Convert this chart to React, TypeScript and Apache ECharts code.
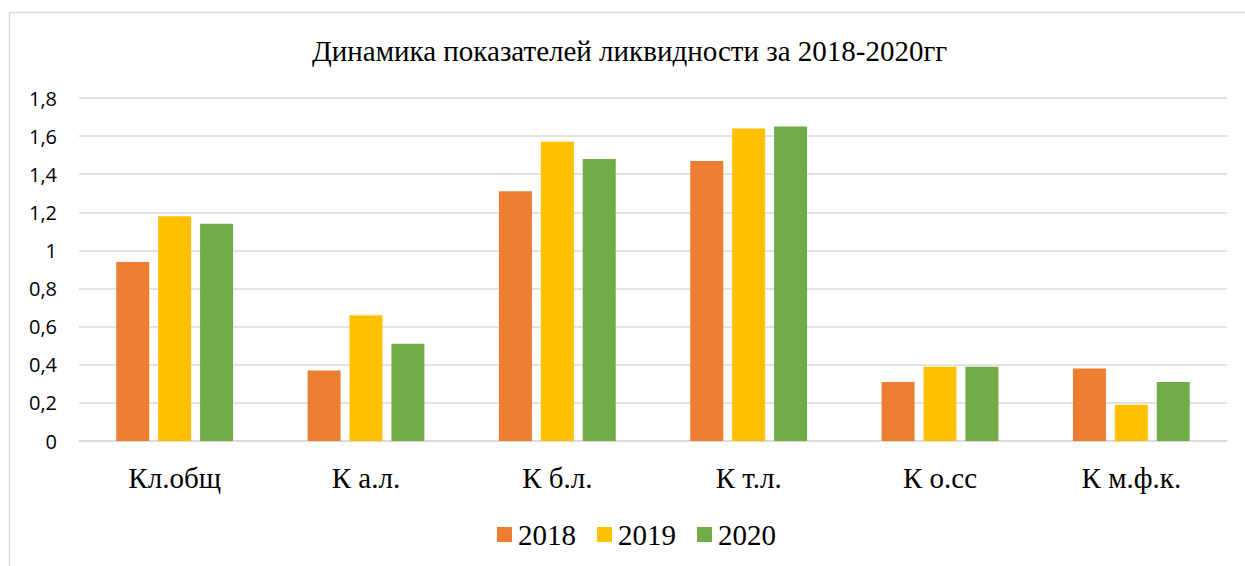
import React, { useEffect, useRef } from "react";
import * as echarts from "echarts";

const categories = ["Кл.общ", "К а.л.", "К б.л.", "К т.л.", "К о.сс", "К м.ф.к."];
const seriesNames = ["2018", "2019", "2020"];
const values2018 = [0.94, 0.37, 1.31, 1.47, 0.31, 0.38];
const values2019 = [1.18, 0.66, 1.57, 1.64, 0.39, 0.19];
const values2020 = [1.14, 0.51, 1.48, 1.65, 0.39, 0.31];
const colors = ["#ED7D31", "#FFC000", "#70AD47"];
const SERIF = "Liberation Serif";

export default function App() {
  const ref = useRef<HTMLDivElement>(null);
  useEffect(() => {
    if (!ref.current) return;
    const chart = echarts.init(ref.current, undefined, { renderer: "svg" });
    const data = [values2018, values2019, values2020];
    chart.setOption({
      animation: false,
      backgroundColor: "#ffffff",
      title: {
        text: "Динамика показателей ликвидности за 2018-2020гг",
        left: 307,
        top: 31,
        textStyle: {
          fontFamily: SERIF,
          fontWeight: "normal",
          fontSize: 29,
          color: "#000000",
        },
      },
      graphic: [
        {
          type: "rect",
          shape: { x: 9.5, y: 12.5, width: 1300, height: 700 },
          style: { fill: "none", stroke: "#d9d9d9", lineWidth: 1.5 },
          silent: true,
        },
      ],
      legend: {
        bottom: 12,
        left: 492,
        itemWidth: 15,
        itemHeight: 15,
        itemGap: 21,
        icon: "rect",
        textStyle: {
          fontFamily: SERIF,
          fontSize: 29,
          color: "#000000",
          padding: [0, 0, 0, 1],
        },
        data: seriesNames,
      },
      grid: { left: 79, right: 18, top: 98, bottom: 125 },
      xAxis: {
        type: "category",
        data: categories,
        axisLine: { lineStyle: { color: "#d9d9d9", width: 1.5 } },
        axisTick: { show: false },
        axisLabel: {
          fontFamily: SERIF,
          fontSize: 29,
          color: "#000000",
          margin: 22,
        },
      },
      yAxis: {
        type: "value",
        min: 0,
        max: 1.8,
        interval: 0.2,
        axisLine: { show: false },
        axisTick: { show: false },
        splitLine: { lineStyle: { color: "#d9d9d9", width: 1.5 } },
        axisLabel: {
          fontFamily: "Open Sans",
          fontSize: 20,
          color: "#000000",
          margin: 22,
          formatter: (v: number) =>
            Number(v.toFixed(1)).toString().replace(".", ","),
        },
      },
      series: seriesNames.map((name, i) => ({
        name,
        type: "bar",
        data: data[i],
        barWidth: 33,
        barGap: "27%",
        itemStyle: { color: colors[i] },
      })),
    });
    return () => chart.dispose();
  }, []);
  return (
    <div
      ref={ref}
      style={{ position: "fixed", left: 0, top: 0, width: 1245, height: 566 }}
    />
  );
}
